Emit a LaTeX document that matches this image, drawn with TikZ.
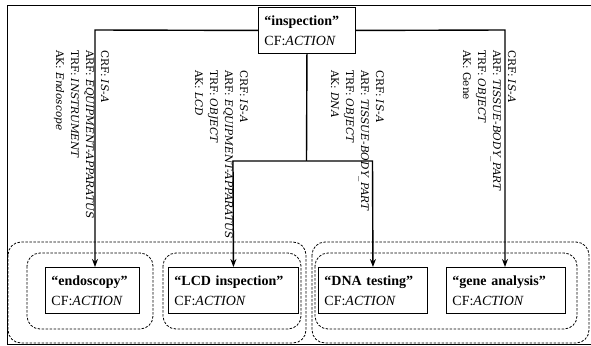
\documentclass[tikz,border=0pt]{standalone}
\usepackage{fontspec}
\setmainfont{Liberation Serif}
\newfontfamily\lblfont{DejaVu Serif}
\usetikzlibrary{arrows.meta}
\begin{document}
\begin{tikzpicture}[x=1pt,y=-1pt,
  box/.style={draw, line width=0.9pt, inner xsep=6pt, inner ysep=0pt, minimum height=46pt,
    align=left, anchor=north west, font=\fontsize{14}{20}\selectfont},
  grp/.style={draw, dash pattern=on 2.5pt off 1.5pt, line width=0.8pt, rounded corners=13pt},
  conn/.style={line width=1.4pt},
  arr/.style={conn, -{Stealth[length=8pt,width=6pt]}},
  lbl/.style={rotate=-90, anchor=north west, inner sep=0pt, align=left,
    font=\lblfont\fontsize{10.5}{15}\selectfont}
]
\useasboundingbox (0,0) rectangle (591,345);
\begin{scope}
\clip (0,0) rectangle (591,345);
\draw[line width=1pt] (7,6) rectangle (600,344);
\end{scope}

% group outlines
\draw[grp] (8,242) rectangle (306,343);
\draw[grp] (312,242) rectangle (589,343);
\draw[grp] (27,253) rectangle (153,329);
\draw[grp] (163,253) rectangle (301,329);
\draw[grp] (315,253) rectangle (577,329);

% nodes
\node[box, text width=85pt] (insp) at (258,7) {\textbf{“inspection”}\\CF:\textit{ACTION}};
\node[box, text width=82pt] (endo) at (45,267) {\textbf{“endoscopy”}\\CF:\textit{ACTION}};
\node[box, text width=118pt] (lcd) at (168,267) {\textbf{“LCD inspection”}\\CF:\textit{ACTION}};
\node[box, text width=97pt] (dna) at (318,267) {\textbf{“DNA testing”}\\CF:\textit{ACTION}};
\node[box, text width=107pt] (gene) at (446,267) {\textbf{“gene analysis”}\\CF:\textit{ACTION}};

% labels
\node[lbl] (l1) at (109,50) {CRF: \textit{IS-A}\\ARF: \textit{EQUIPMENT-APPARATUS}\\TRF: \textit{INSTRUMENT}\\AK: \textit{Endoscope}};
\node[lbl] (l2) at (248,70) {CRF: \textit{IS-A}\\ARF: \textit{EQUIPMENT-APPARATUS}\\TRF: \textit{OBJECT}\\AK: \textit{LCD}};
\node[lbl] (l3) at (384,70) {CRF: \textit{IS-A}\\ARF: \textit{TISSUE-BODY\_PART}\\TRF: \textit{OBJECT}\\AK: \textit{DNA}};
\node[lbl] (l4) at (516,50) {CRF: \textit{IS-A}\\ARF: \textit{TISSUE-BODY\_PART}\\TRF: \textit{OBJECT}\\AK: Gene};

% connectors
\coordinate (bl) at (95,30);
\coordinate (br) at (505,30);
\coordinate (jn) at (306.5,161);
\coordinate (jl) at (233,161);
\coordinate (jr) at (372.5,161);
\draw[arr] (insp.west) -- (bl) -- (bl |- endo.north);
\draw[arr] (insp.east) -- (br) -- (br |- gene.north);
\draw[conn] (insp.south) -- (jn);
\draw[arr] (jn) -- (jl) -- (lcd.north);
\draw[arr] (jn) -- (jr) -- (dna.north);
\end{tikzpicture}
\end{document}
